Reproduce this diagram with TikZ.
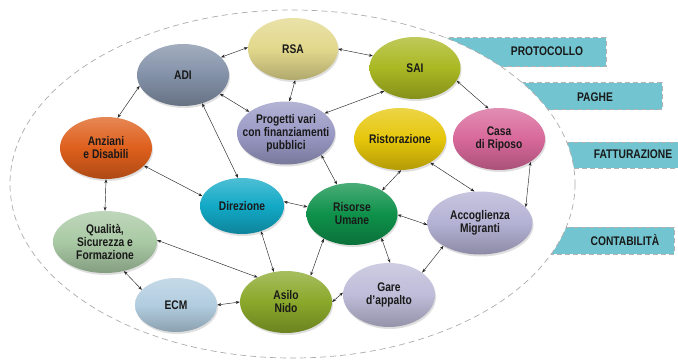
\documentclass[tikz,border=0pt]{standalone}
\usepackage{fontspec}
\setmainfont{Liberation Sans}[FakeStretch=0.82]
\usetikzlibrary{arrows.meta,shapes.geometric,shadows}
\definecolor{adicol}{HTML}{8391A8}
\definecolor{rsacol}{HTML}{E2D88C}
\definecolor{saicol}{HTML}{A9B822}
\definecolor{procol}{HTML}{9A9AC6}
\definecolor{anzcol}{HTML}{DE5F1C}
\definecolor{ristcol}{HTML}{E6C60A}
\definecolor{casacol}{HTML}{D8689A}
\definecolor{dircol}{HTML}{12A9C6}
\definecolor{rucol}{HTML}{0E914A}
\definecolor{acccol}{HTML}{B4B2D4}
\definecolor{qualcol}{HTML}{A9C9A4}
\definecolor{ecmcol}{HTML}{B2CDE0}
\definecolor{asilocol}{HTML}{8AA82A}
\definecolor{garecol}{HTML}{BEBCD8}
\definecolor{bancol}{HTML}{72C5D0}
\tikzset{
  bub/.style={ellipse, inner sep=0pt, draw=none,
    top color=#1!75!white, bottom color=#1!78!black, middle color=#1,
    drop shadow={opacity=0.25, shadow xshift=1pt, shadow yshift=-2pt}},
  lbl/.style={font=\bfseries\fontsize{12.5}{13}\selectfont, align=center, text=black!90, inner sep=0pt},
  bantxt/.style={font=\bfseries\fontsize{12.5}{13}\selectfont, text=black!90, inner sep=0pt},
  banner/.style={fill=bancol, draw=gray!60, dashed, dash pattern=on 5pt off 3pt, line width=1pt},
  conn/.style={{Stealth[length=4pt,width=3pt]}-{Stealth[length=4pt,width=3pt]}, line width=0.45pt, black!85}
}
\begin{document}
\begin{tikzpicture}[x=1pt,y=-1pt]
\useasboundingbox (0,0) rectangle (678,361);
% banners
\draw[banner] (400,38) rectangle (606,67);
\draw[banner] (460,83) rectangle (662,110);
\draw[banner] (520,142) rectangle (679,168);
\draw[banner] (520,227) rectangle (674,254);
% big dashed ellipse
\draw[fill=white, draw=gray!65, dash pattern=on 6pt off 4pt, line width=0.7pt] (292.5,184) ellipse [x radius=282.5, y radius=174];
% banner texts
\node[bantxt] (tprot) at (547,51) {PROTOCOLLO};
\node[bantxt] (tpag) at (595,97) {PAGHE};
\node[bantxt] (tfat) at (633,154) {FATTURAZIONE};
\node[bantxt] (tcon) at (625,240) {CONTABILITÀ};
% nodes
\node[bub=adicol, minimum width=92, minimum height=62] (adi) at (183,75) {};
\node[bub=rsacol, minimum width=90, minimum height=62] (rsa) at (293,49) {};
\node[bub=saicol, minimum width=91, minimum height=62] (sai) at (415,68) {};
\node[bub=procol, minimum width=98, minimum height=63] (pro) at (286,133) {};
\node[bub=anzcol, minimum width=92, minimum height=62] (anz) at (106,148) {};
\node[bub=ristcol, minimum width=92, minimum height=62] (rist) at (400,139) {};
\node[bub=casacol, minimum width=92, minimum height=62] (casa) at (499,139) {};
\node[bub=dircol, minimum width=84, minimum height=56] (dir) at (242,206) {};
\node[bub=rucol, minimum width=91, minimum height=62] (ru) at (352,214) {};
\node[bub=acccol, minimum width=105, minimum height=63] (acc) at (480,223) {};
\node[bub=qualcol, minimum width=104, minimum height=62] (qual) at (105,242) {};
\node[bub=ecmcol, minimum width=82, minimum height=54] (ecm) at (176,305) {};
\node[bub=asilocol, minimum width=92, minimum height=62] (asilo) at (286,302) {};
\node[bub=garecol, minimum width=92, minimum height=64] (gare) at (389,295) {};
% labels
\node[lbl] (ladi) at (adi) {ADI};
\node[lbl] (lrsa) at (rsa) {RSA};
\node[lbl] (lsai) at (sai) {SAI};
\node[lbl] (lpro) at (pro) {Progetti vari\\con finanziamenti\\pubblici};
\node[lbl] (lanz) at (anz) {Anziani\\e Disabili};
\node[lbl] (lrist) at (rist) {Ristorazione};
\node[lbl] (lcasa) at (casa) {Casa\\di Riposo};
\node[lbl] (ldir) at (dir) {Direzione};
\node[lbl] (lru) at (ru) {Risorse\\Umane};
\node[lbl] (lacc) at (acc) {Accoglienza\\Migranti};
\node[lbl] (lqual) at (qual) {Qualità,\\Sicurezza e\\Formazione};
\node[lbl] (lecm) at (ecm) {ECM};
\node[lbl] (lasilo) at (asilo) {Asilo\\Nido};
\node[lbl] (lgare) at (gare) {Gare\\d’appalto};
% connectors
\draw[conn] (adi.25) -- (rsa.178);
\draw[conn] (rsa.0) -- (sai.164);
\draw[conn] (rsa.-86) -- (pro.84);
\draw[conn] (adi.-27) -- (pro.150);
\draw[conn] (sai.217) -- (pro.27);
\draw[conn] (sai.-17) -- (casa.109);
\draw[conn] (adi.194) -- (anz.69);
\draw[conn] (adi.-56) -- (dir.98);
\draw[conn] (anz.-25) -- (dir.166);
\draw[conn] (anz.-90) -- (qual.90);
\draw[conn] (pro.-32) -- (ru.117);
\draw[conn] (rist.-88) -- (ru.38);
\draw[conn] (rist.-38) -- (acc.100);
\draw[conn] (casa.-36) -- (acc.19);
\draw[conn] (dir.6) -- (ru.171);
\draw[conn] (dir.-53) -- (asilo.112);
\draw[conn] (ru.-1) -- (acc.182);
\draw[conn] (ru.221) -- (asilo.47);
\draw[conn] (ru.-39) -- (gare.88);
\draw[conn] (acc.212) -- (gare.34);
\draw[conn] (qual.2) -- (asilo.139);
\draw[conn] (qual.-57) -- (ecm.156);
\draw[conn] (ecm.0) -- (asilo.180);
\draw[conn] (gare.177) -- (asilo.0);
\end{tikzpicture}
\end{document}
